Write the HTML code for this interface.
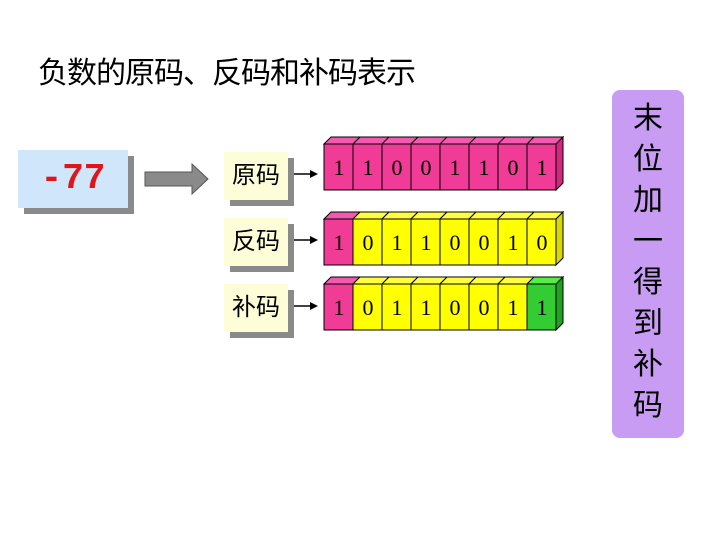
<!DOCTYPE html>
<html><head><meta charset="utf-8"><style>
body{margin:0;width:720px;height:540px;background:#fff;position:relative;overflow:hidden;font-family:"Liberation Serif","Noto Serif CJK SC",serif}
.abs{position:absolute}
.title{left:38px;top:48px;font:30px "Liberation Sans","Noto Sans CJK SC",sans-serif;letter-spacing:-1px}
.num{left:18px;top:150px;width:110px;height:58px;background:#cfe6fb;box-shadow:6px 6px 0 #8a8a8a;color:#e0151a;font:bold 36px "Liberation Mono",monospace;text-align:center;line-height:58px}
.lab{width:64px;height:48px;background:#fdfdd8;box-shadow:6px 6px 0 #8a8a8a;font:24px "Liberation Sans","Noto Sans CJK SC",sans-serif;text-align:center;line-height:48px}
.panel{left:612px;top:90px;width:72px;height:348px;background:#c99cf3;border-radius:8px;font:30px "Liberation Sans","Noto Sans CJK SC",sans-serif;text-align:center;line-height:41px;padding-top:8px;box-sizing:border-box}
</style></head><body>
<div class="abs title">负数的原码、反码和补码表示</div>
<div class="abs num">-77</div>
<svg class="abs" style="left:0;top:0" width="720" height="540">
<polygon points="145,172 192,172 192,164 208,179 192,194 192,186 145,186" fill="#8a8a8a" stroke="#555" stroke-width="1"/>
<g stroke="#000" stroke-width="1.5"><line x1="292" y1="174" x2="312" y2="174"/><line x1="292" y1="240" x2="312" y2="240"/><line x1="292" y1="306" x2="312" y2="306"/></g>
<g fill="#000"><polygon points="318,174 310,170 310,178"/><polygon points="318,240 310,236 310,244"/><polygon points="318,306 310,302 310,310"/></g>
<g id="cells" font-size="22" text-anchor="middle" stroke="#000" stroke-width="1"></g>
</svg>
<div class="abs lab" style="left:224px;top:152px">原码</div>
<div class="abs lab" style="left:224px;top:218px">反码</div>
<div class="abs lab" style="left:224px;top:284px">补码</div>
<div class="abs panel">末<br>位<br>加<br>一<br>得<br>到<br>补<br>码</div>
<script>
var rows=[[144,"11001101","PPPPPPPP"],[219,"10110010","PYYYYYYY"],[284,"10110011","PYYYYYYG"]];
var col={P:["#f03c96","#f25ab0","#d02a80"],Y:["#ffff00","#ffff40","#d8d800"],G:["#33cc33","#55ee44","#22a022"]};
var g=document.getElementById('cells'),s='';
rows.forEach(function(r){var y=r[0];for(var i=0;i<8;i++){var x=324+i*29,c=col[r[2][i]];
s+='<polygon points="'+x+','+y+' '+(x+7)+','+(y-7)+' '+(x+36)+','+(y-7)+' '+(x+29)+','+y+'" fill="'+c[1]+'"/>';
s+='<rect x="'+x+'" y="'+y+'" width="29" height="46" fill="'+c[0]+'"/>';
s+='<text x="'+(x+15)+'" y="'+(y+31)+'" stroke="none" fill="#000">'+r[1][i]+'</text>';}
var x=324+8*29;s+='<polygon points="'+x+','+y+' '+(x+7)+','+(y-7)+' '+(x+7)+','+(y+39)+' '+x+','+(y+46)+'" fill="'+col[r[2][7]][2]+'"/>';});
g.innerHTML=s;
</script>
</body></html>
